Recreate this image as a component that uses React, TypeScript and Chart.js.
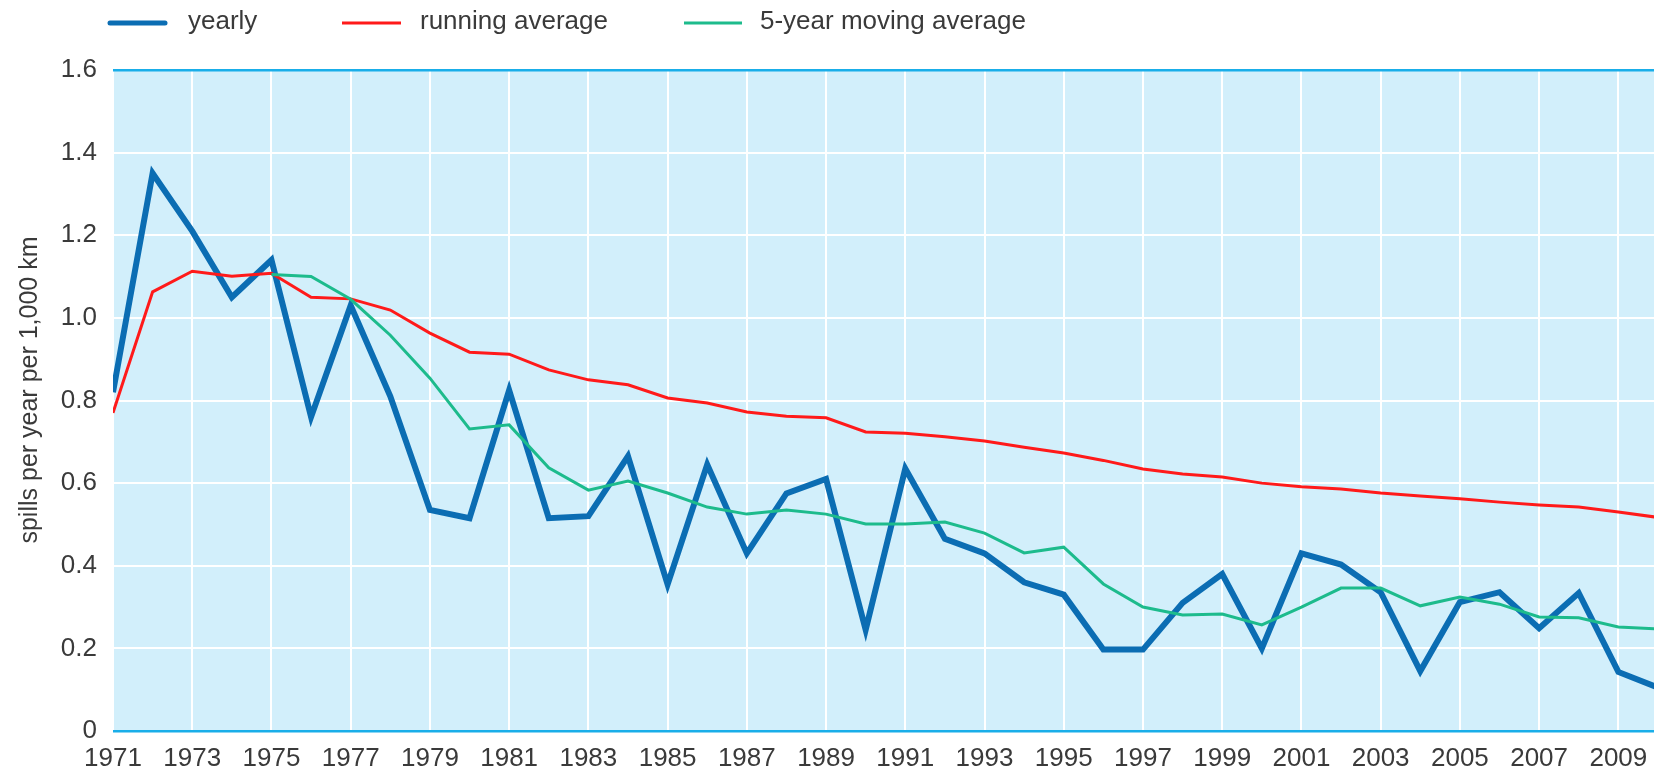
import React, { useEffect, useRef } from "react";
import { Chart, registerables } from "chart.js";

Chart.register(...registerables);

const years: number[] = [
  1971, 1972, 1973, 1974, 1975, 1976, 1977, 1978, 1979, 1980,
  1981, 1982, 1983, 1984, 1985, 1986, 1987, 1988, 1989, 1990,
  1991, 1992, 1993, 1994, 1995, 1996, 1997, 1998, 1999, 2000,
  2001, 2002, 2003, 2004, 2005, 2006, 2007, 2008, 2009, 2010,
];

const yearly: number[] = [
  0.82, 1.35, 1.21, 1.05, 1.14, 0.76, 1.03, 0.81, 0.535, 0.515,
  0.825, 0.515, 0.52, 0.665, 0.355, 0.645, 0.43, 0.575, 0.61, 0.245,
  0.635, 0.465, 0.43, 0.36, 0.33, 0.197, 0.197, 0.31, 0.38, 0.2,
  0.43, 0.403, 0.336, 0.145, 0.312, 0.336, 0.249, 0.334, 0.143, 0.105,
];

const runningAverage: number[] = [
  0.77, 1.063, 1.113, 1.101, 1.108, 1.05, 1.046, 1.019, 0.963, 0.917,
  0.912, 0.874, 0.85, 0.838, 0.806, 0.794, 0.772, 0.762, 0.758, 0.724,
  0.721, 0.712, 0.702, 0.687, 0.673, 0.655, 0.634, 0.622, 0.615, 0.6,
  0.591, 0.586, 0.576, 0.569, 0.562, 0.554, 0.547, 0.542, 0.53, 0.517,
];

const movingAverage: (number | null)[] = [
  null, null, null, null, 1.105, 1.1, 1.045, 0.958, 0.854, 0.731,
  0.741, 0.637, 0.583, 0.605, 0.576, 0.542, 0.525, 0.535, 0.525, 0.501,
  0.501, 0.506, 0.479, 0.431, 0.445, 0.356, 0.3, 0.281, 0.283, 0.257,
  0.3, 0.346, 0.346, 0.303, 0.324, 0.307, 0.276, 0.274, 0.252, 0.247,
];

const xTickYears: number[] = [
  1971, 1973, 1975, 1977, 1979, 1981, 1983, 1985, 1987, 1989,
  1991, 1993, 1995, 1997, 1999, 2001, 2003, 2005, 2007, 2009,
];

const seriesNames: string[] = ["yearly", "running average", "5-year moving average"];
const yTitle = "spills per year per 1,000 km";

const FONT = "'Liberation Sans', Arial, Helvetica, sans-serif";
const TEXT_COLOR = "#3a3a3a";
const BLUE = "#0b6db3";
const RED = "#ff1a1a";
const GREEN = "#1dbb8c";
const FRAME = "#19aee9";
const PLOT_BG = "#d2effb";

const toPoints = (vals: (number | null)[]) =>
  years.map((yr, i) => ({ x: yr, y: vals[i] }));

const bgPlugin = {
  id: "plotBg",
  beforeDraw(chart: any) {
    const { ctx, chartArea } = chart;
    ctx.save();
    ctx.fillStyle = PLOT_BG;
    ctx.fillRect(chartArea.left, chartArea.top, chartArea.right - chartArea.left, chartArea.bottom - chartArea.top);
    ctx.restore();
  },
};

const textPlugin = {
  id: "customTexts",
  afterDraw(chart: any) {
    const { ctx } = chart;
    const items = [
      { x: 108, w: 59, tx: 188, lw: 5, cap: "round" },
      { x: 342, w: 59, tx: 420, lw: 3, cap: "butt" },
      { x: 684, w: 58, tx: 760, lw: 3, cap: "butt" },
    ];
    const y = 23;
    ctx.save();
    chart.data.datasets.forEach((ds: any, i: number) => {
      const it = items[i];
      ctx.beginPath();
      ctx.strokeStyle = ds.borderColor;
      ctx.lineWidth = it.lw;
      ctx.lineCap = it.cap;
      ctx.moveTo(it.x + (it.cap === "round" ? 2 : 0), y);
      ctx.lineTo(it.x + it.w - (it.cap === "round" ? 2 : 0), y);
      ctx.stroke();
      ctx.fillStyle = TEXT_COLOR;
      ctx.font = `26px ${FONT}`;
      ctx.textBaseline = "middle";
      ctx.textAlign = "left";
      ctx.fillText(ds.label, it.tx, y - 1);
    });
    // y-axis title
    ctx.translate(30, 390);
    ctx.rotate(-Math.PI / 2);
    ctx.fillStyle = TEXT_COLOR;
    ctx.font = `25px ${FONT}`;
    ctx.textAlign = "center";
    ctx.textBaseline = "middle";
    ctx.fillText(yTitle, 0, 0);
    ctx.restore();
  },
};

export default function App() {
  const canvasRef = useRef<HTMLCanvasElement | null>(null);

  useEffect(() => {
    if (!canvasRef.current) return;
    const chart = new Chart(canvasRef.current, {
      type: "line",
      data: {
        datasets: [
          {
            label: seriesNames[0],
            data: toPoints(yearly),
            borderColor: BLUE,
            backgroundColor: BLUE,
            borderWidth: 6,
            pointRadius: 0,
            tension: 0,
            order: 3,
            clip: 0,
          },
          {
            label: seriesNames[1],
            data: toPoints(runningAverage),
            borderColor: RED,
            backgroundColor: RED,
            borderWidth: 3,
            pointRadius: 0,
            tension: 0,
            order: 2,
            clip: 0,
          },
          {
            label: seriesNames[2],
            data: toPoints(movingAverage),
            borderColor: GREEN,
            backgroundColor: GREEN,
            borderWidth: 3,
            pointRadius: 0,
            tension: 0,
            order: 1,
            clip: 0,
          },
        ] as any,
      },
      options: {
        animation: false,
        responsive: false,
        devicePixelRatio: 1,
        layout: { padding: { top: 70, left: 0, right: 0, bottom: 0 } },
        plugins: {
          legend: { display: false },
          tooltip: { enabled: false },
        },
        scales: {
          x: {
            type: "linear",
            min: 1971,
            max: 2009.9,
            afterBuildTicks: (scale: any) => {
              scale.ticks = xTickYears.map((v) => ({ value: v }));
            },
            afterFit: (scale: any) => {
              scale.height = 43;
              scale.paddingRight = 0;
              scale.paddingLeft = 0;
            },
            grid: {
              color: "#ffffff",
              lineWidth: 2,
              drawTicks: false,
            },
            border: { display: false },
            ticks: {
              autoSkip: false,
              maxRotation: 0,
              padding: 12,
              color: TEXT_COLOR,
              font: { family: FONT, size: 26 },
              callback: (v: any) => String(v),
            },
          },
          y: {
            min: 0,
            max: 1.6,
            afterFit: (scale: any) => {
              scale.width = 113;
            },
            grid: {
              color: (ctx: any) =>
                ctx.tick && (ctx.tick.value === 0 || Math.abs(ctx.tick.value - 1.6) < 1e-6) ? FRAME : "#ffffff",
              lineWidth: (ctx: any) =>
                ctx.tick && (ctx.tick.value === 0 || Math.abs(ctx.tick.value - 1.6) < 1e-6) ? 2.5 : 2,
              drawTicks: false,
            },
            border: { display: false },
            ticks: {
              stepSize: 0.2,
              padding: 16,
              color: TEXT_COLOR,
              font: { family: FONT, size: 26 },
              callback: (v: any) => (Math.abs(v) < 1e-9 ? "0" : Number(v).toFixed(1)),
            },
            title: { display: false },
          },
        },
      },
      plugins: [bgPlugin, textPlugin],
    });
    return () => chart.destroy();
  }, []);

  return (
    <div style={{ position: "absolute", left: 0, top: 0, width: 1654, height: 774, background: "#ffffff" }}>
      <canvas ref={canvasRef} width={1654} height={774} style={{ display: "block" }} />
    </div>
  );
}
